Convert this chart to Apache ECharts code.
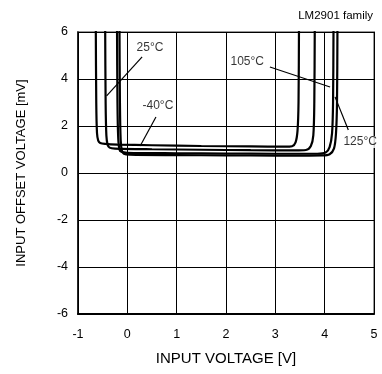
<!DOCTYPE html>
<html><head><meta charset="utf-8">
<script src="https://cdn.jsdelivr.net/npm/echarts@6/dist/echarts.min.js"></script>
<style>html,body{margin:0;padding:0;background:#fff}#c{width:382px;height:374px}</style>
</head><body><div id="c"></div>
<script>
var xTicks = [-1, 0, 1, 2, 3, 4, 5];
var yTicks = [-6, -4, -2, 0, 2, 4, 6];
var tM40 = [[-0.64,6.6],[-0.63,3],[-0.615,1.7],[-0.59,1.38],[-0.55,1.28],[-0.45,1.24],[-0.2,1.21],[0.5,1.18],[1.5,1.15],[2.5,1.13],[3.2,1.12],[3.34,1.14],[3.41,1.3],[3.45,1.8],[3.47,3],[3.48,6.6]];
var t25 = [[-0.45,6.6],[-0.44,3],[-0.425,1.6],[-0.4,1.2],[-0.36,1.08],[-0.25,1.04],[0.5,1.01],[1.5,0.99],[2.5,0.97],[3.4,0.96],[3.62,0.98],[3.72,1.15],[3.77,1.6],[3.79,3],[3.8,6.6]];
var t105 = [[-0.21,6.6],[-0.2,3],[-0.185,1.5],[-0.16,1.0],[-0.12,0.9],[0,0.86],[1,0.84],[2,0.83],[3,0.82],[3.85,0.82],[4.02,0.87],[4.1,1.1],[4.15,1.7],[4.17,3],[4.18,6.6]];
var t125 = [[-0.16,6.6],[-0.15,3],[-0.135,1.4],[-0.11,0.95],[-0.07,0.82],[0.05,0.78],[1,0.76],[2,0.75],[3,0.74],[3.95,0.75],[4.1,0.8],[4.19,1.05],[4.23,1.7],[4.25,3],[4.26,6.6]];
var labels = [
  {name: '25\u00b0C', value: [0.46, 5.32]},
  {name: '-40\u00b0C', value: [0.62, 2.85]},
  {name: '105\u00b0C', value: [2.43, 4.72]},
  {name: '125\u00b0C', value: [4.72, 1.32]}
];
var leaders = [
  [[0.30, 4.94], [-0.42, 3.28]],
  [[0.58, 2.38], [0.26, 1.15]],
  [[2.89, 4.51], [4.11, 3.66]],
  [[4.21, 3.24], [4.48, 1.83]]
];
var font = 'Liberation Sans, Arial, sans-serif';
var curveSeries = [tM40, t25, t105, t125].map(function (d) {
  return {type: 'line', data: d, symbol: 'none', smooth: 0.3, clip: true,
    lineStyle: {color: '#000', width: 2.2}, z: 5};
});
var leaderSeries = leaders.map(function (d) {
  return {type: 'line', data: d, symbol: 'none', lineStyle: {color: '#000', width: 1.2}, z: 6};
});
var chart = echarts.init(document.getElementById('c'));
chart.setOption({
  animation: false,
  backgroundColor: '#fff',
  textStyle: {fontFamily: font},
  title: {text: 'LM2901 family', right: 4, top: 5,
    textStyle: {fontSize: 11.5, fontWeight: 'normal', color: '#000', fontFamily: font}},
  grid: {left: 78, right: 8, top: 32, bottom: 60, show: true, borderColor: '#999', borderWidth: 2},
  xAxis: {type: 'value', min: -1, max: 5, interval: 1,
    name: 'INPUT VOLTAGE [V]', nameLocation: 'middle', nameGap: 37,
    nameTextStyle: {fontSize: 15, color: '#000', fontFamily: font},
    axisLine: {onZero: false, lineStyle: {color: '#000', width: 2}},
    axisTick: {show: false},
    axisLabel: {fontSize: 12.5, color: '#000', margin: 14, fontFamily: font,
      formatter: function (v) { return xTicks.indexOf(v) >= 0 ? String(v) : ''; }},
    splitLine: {lineStyle: {color: '#000', width: 1}}
  },
  yAxis: {type: 'value', min: -6, max: 6, interval: 2,
    name: 'INPUT OFFSET VOLTAGE [mV]', nameLocation: 'middle', nameGap: 50,
    nameTextStyle: {fontSize: 13, color: '#000', fontFamily: font},
    axisLine: {onZero: false, lineStyle: {color: '#000', width: 1.5}},
    axisTick: {show: false},
    axisLabel: {fontSize: 12.5, color: '#000', margin: 10, fontFamily: font,
      formatter: function (v) { return yTicks.indexOf(v) >= 0 ? String(v) : ''; }},
    splitLine: {lineStyle: {color: '#000', width: 1}}
  },
  series: curveSeries.concat(leaderSeries).concat([{
    type: 'scatter', data: labels, symbolSize: 0, z: 7,
    label: {show: true, position: 'inside', formatter: '{b}', fontSize: 12, color: '#000',
      fontFamily: font, backgroundColor: '#fff'}
  }])
});
</script></body></html>
